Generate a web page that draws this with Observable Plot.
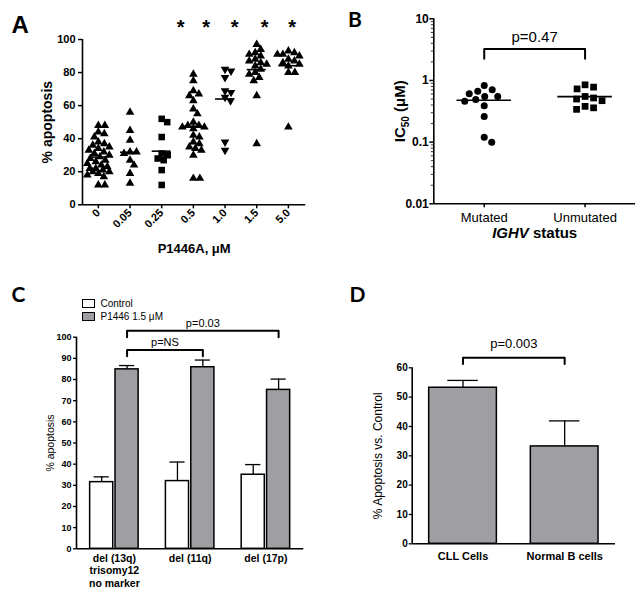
<!DOCTYPE html>
<html>
<head>
<meta charset="utf-8">
<script src="https://cdn.jsdelivr.net/npm/d3@7"></script>
<script src="https://cdn.jsdelivr.net/npm/@observablehq/plot@0.6"></script>
<style>
  html, body { margin: 0; padding: 0; background: #fff; }
  #fig { position: relative; width: 643px; height: 594px; overflow: hidden; background: #fff;
         font-family: "Liberation Sans", Arial, sans-serif; color: #000; }
  #fig svg { position: absolute; overflow: visible; }
  .leg { position: absolute; font-size: 10px; line-height: 13px; white-space: nowrap; }
  .leg .row { display: flex; align-items: center; height: 13px; }
  .leg .sw { display: inline-block; width: 11px; height: 7px; border: 1px solid #000; margin-right: 6px; }
</style>
</head>
<body>
<div id="fig"></div>
<script>
// ================= DATA =================
// Panel A: % apoptosis by P1446A dose (µM)
const doseLabels = ["0", "0.05", "0.25", "0.5", "1.0", "1.5", "5.0"];
const apoptosisDose0   = [48, 48, 44, 43, 41, 38, 37, 36, 35, 34, 33, 32, 31, 30, 29, 28, 27, 26, 25, 24, 23, 22, 22, 21, 20, 20, 19, 18, 17, 12, 12];
const apoptosisDose005 = [56, 45, 39, 32, 32, 31, 27, 24, 19, 13];
const apoptosisDose025 = [52, 50, 41, 31, 30, 28, 27, 21, 12];
const apoptosisDose05  = [79, 75, 69, 67, 66, 63, 58, 55, 50, 48, 48, 47, 47, 46, 42, 41, 38, 37, 35, 34, 33, 30, 16, 16];
const apoptosisDose10  = [82, 81, 77, 69, 68, 65, 63, 38, 33];
const apoptosisDose15  = [97, 94, 92, 91, 90, 88, 87, 86, 85, 84, 82, 80, 79, 77, 75, 66, 37];
const apoptosisDose50  = [93, 92, 91, 91, 90, 88, 87, 86, 85, 84, 80, 80, 47];
const significanceMarks = ["*", "*", "*", "*", "*"];
const starAt = [2.6, 3.4, 4.3, 5.25, 6.12];   // annotation positions in dose-category units

// Panel B: IC50 (µM) by IGHV status
const ighvGroups = ["Mutated", "Unmutated"];
const ic50Mutated   = [0.83, 0.71, 0.67, 0.61, 0.55, 0.55, 0.49, 0.46, 0.39, 0.26, 0.12, 0.10];
const ic50Unmutated = [0.85, 0.78, 0.73, 0.55, 0.52, 0.50, 0.47, 0.38, 0.36, 0.34];
const pValueB = "p=0.47";

// Panel C: % apoptosis by cytogenetic group
const cytoGroups = ["del (13q)\ntrisomy12\nno marker", "del (11q)", "del (17p)"];
const seriesC = ["Control", "P1446 1.5 μM"];
const controlMean = [31.5, 32.0, 35.0];
const controlErr  = [2.5, 9.0, 4.8];
const p1446Mean   = [84.8, 85.8, 75.1];
const p1446Err    = [1.8, 3.4, 5.1];
const bracketsC = [{from: 0, to: 2, label: "p=0.03"}, {from: 0, to: 1, label: "p=NS"}];

// Panel D: % apoptosis vs control
const cellTypes = ["CLL Cells", "Normal B cells"];
const apoptosisVsControl = [53.2, 33.2];
const apoptosisVsControlErr = [2.5, 8.7];
const pValueD = "p=0.003";

// ================= HELPERS =================
const FONT = "Liberation Sans, Arial, sans-serif";
const GRAY = "#9e9ea3";
const fig = document.getElementById("fig");

function layout(box, f) {
  return {
    width: box.w, height: box.h,
    marginLeft: f.l - box.x, marginTop: f.t - box.y,
    marginRight: box.x + box.w - f.r, marginBottom: box.y + box.h - f.b
  };
}
function place(svg, box) {
  svg.style.left = box.x + "px";
  svg.style.top = box.y + "px";
  fig.appendChild(svg);
  return svg;
}
// deterministic beeswarm: horizontal pixel offsets, limited to a max spread
function swarm(vals, toPx, diam, maxOff) {
  const order = d3.range(vals.length).sort((a, b) => vals[b] - vals[a]);
  const placed = [];
  const off = new Array(vals.length).fill(0);
  for (const k of order) {
    const py = toPx(vals[k]);
    let best = 0, bestScore = -Infinity;
    for (let s = 0; ; s++) {
      const c = s === 0 ? 0 : (s % 2 ? 1 : -1) * Math.ceil(s / 2) * 0.5;
      if (Math.abs(c) > maxOff) break;
      const md = placed.length ? d3.min(placed, p => Math.hypot(p.x - c, p.y - py)) : Infinity;
      if (md >= diam) { best = c; break; }
      if (md > bestScore + 0.01) { bestScore = md; best = c; }
    }
    placed.push({x: best, y: py});
    off[k] = best;
  }
  return off;
}
const triangleDown = {
  draw(ctx, size) {
    const y = Math.sqrt(size / (Math.sqrt(3) * 3));
    ctx.moveTo(0, y * 2);
    ctx.lineTo(-Math.sqrt(3) * y, -y);
    ctx.lineTo(Math.sqrt(3) * y, -y);
    ctx.closePath();
  }
};
const baseStyle = {fontFamily: FONT, background: "transparent", color: "#000", overflow: "visible", fontSize: "11px"};

// ================= PANEL A =================
{
  const box = {x: 0, y: 0, w: 330, h: 280};
  const fr = {l: 82, t: 39, r: 305.3, b: 204.3};
  const xDom = [-0.5, 6.55], yDom = [0, 100];
  const pxX = (fr.r - fr.l) / (xDom[1] - xDom[0]);
  const pxY = (fr.b - fr.t) / (yDom[1] - yDom[0]);
  const valuesA = [apoptosisDose0, apoptosisDose005, apoptosisDose025, apoptosisDose05, apoptosisDose10, apoptosisDose15, apoptosisDose50];
  const rows = doseLabels.flatMap((g, i) => {
    const off = swarm(valuesA[i], v => v * pxY, 6.2, 11);
    return valuesA[i].map((v, k) => ({g, i, v, x: i + off[k] / pxX}));
  });
  const means = doseLabels.map((g, i) => ({i, mean: d3.mean(valuesA[i])}));
  const svg = Plot.plot({
    ...layout(box, fr),
    style: baseStyle,
    x: {type: "linear", domain: xDom},
    y: {domain: yDom},
    marks: [
      Plot.axisY({ticks: d3.range(0, 101, 20), tickSize: 4, tickPadding: 3, fontSize: 11, fontWeight: "bold", strokeWidth: 1.5, label: null}),
      Plot.axisX({ticks: d3.range(doseLabels.length), tickFormat: i => doseLabels[i], tickRotate: -45, tickSize: 4, tickPadding: 2, fontSize: 11, fontWeight: "bold", strokeWidth: 1.5, label: null}),
      Plot.ruleX([xDom[0]], {strokeWidth: 1.6}),
      Plot.ruleY([0], {strokeWidth: 1.6}),
      Plot.dot(rows.filter(d => d.g === "0.25"), {x: "x", y: "v", symbol: "square", r: 3.7, fill: "#000"}),
      Plot.dot(rows.filter(d => d.g === "1.0"), {x: "x", y: "v", symbol: triangleDown, r: 3.2, fill: "#000"}),
      Plot.dot(rows.filter(d => d.g !== "0.25" && d.g !== "1.0"), {x: "x", y: "v", symbol: "triangle", r: 3.2, fill: "#000"}),
      Plot.ruleY(means, {y: "mean", x1: d => d.i - 0.3, x2: d => d.i + 0.3, strokeWidth: 1.6}),
      Plot.text(significanceMarks, {x: (d, k) => starAt[k], y: () => 107, text: d => d, fontSize: 20, fontWeight: "bold"}),
      Plot.text(["% apoptosis"], {frameAnchor: "left", dx: 46.7 - fr.l, rotate: -90, textAnchor: "middle", lineAnchor: "middle", fontSize: 14, fontWeight: "bold"}),
      Plot.text(["P1446A, μM"], {frameAnchor: "bottom", dy: 248.3 - fr.b, lineAnchor: "middle", fontSize: 13, fontWeight: "bold"}),
      Plot.text(["A"], {frameAnchor: "top-left", dx: 11 - fr.l, dy: 15 - fr.t, textAnchor: "start", lineAnchor: "top", fontSize: 24, fontWeight: "bold"})
    ]
  });
  place(svg, box);
}

// ================= PANEL B =================
{
  const box = {x: 330, y: 0, w: 313, h: 280};
  const fr = {l: 433.3, t: 18.3, r: 635, b: 203.3};
  const xDom = [-0.5, 1.5], yDom = [0.01, 10];
  const pxX = (fr.r - fr.l) / (xDom[1] - xDom[0]);
  const pxDecade = (fr.b - fr.t) / Math.log10(yDom[1] / yDom[0]);
  const valuesB = [ic50Mutated, ic50Unmutated];
  const rows = ighvGroups.flatMap((g, i) => {
    const off = swarm(valuesB[i], v => pxDecade * Math.log10(v), 8.6, 22);
    return valuesB[i].map((v, k) => ({g, i, v, x: i + off[k] / pxX}));
  });
  const means = ighvGroups.map((g, i) => ({i, mean: d3.mean(valuesB[i])}));
  const minor = d3.scaleLog().domain(yDom).ticks().filter(t => Math.abs(Math.log10(t) - Math.round(Math.log10(t))) > 1e-6);
  const bTop = 3.25, bFoot = 2.25;
  const bracket = [{x: 0, y: bFoot}, {x: 0, y: bTop}, {x: 1, y: bTop}, {x: 1, y: bFoot}];
  const svg = Plot.plot({
    ...layout(box, fr),
    style: baseStyle,
    x: {type: "linear", domain: xDom},
    y: {type: "log", domain: yDom},
    marks: [
      Plot.axisY({ticks: [0.01, 0.1, 1, 10], tickFormat: d => String(d), tickSize: 4, tickPadding: 1, fontSize: 12, fontWeight: "bold", strokeWidth: 1.5, label: null}),
      Plot.axisY({ticks: minor, tickSize: 2.5, fill: "none", strokeWidth: 0.8, label: null}),
      Plot.axisX({ticks: [0, 1], tickFormat: i => ighvGroups[i], tickSize: 4, tickPadding: 5, fontSize: 13, strokeWidth: 1.5, label: null}),
      Plot.ruleX([xDom[0]], {strokeWidth: 1.6}),
      Plot.ruleY([yDom[0]], {strokeWidth: 1.6}),
      Plot.dot(rows.filter(d => d.i === 0), {x: "x", y: "v", symbol: "circle", r: 3.5, fill: "#000"}),
      Plot.dot(rows.filter(d => d.i === 1), {x: "x", y: "v", symbol: "square", r: 3.8, fill: "#000"}),
      Plot.ruleY(means, {y: "mean", x1: d => d.i - 0.27, x2: d => d.i + 0.27, strokeWidth: 1.6}),
      Plot.line(bracket, {x: "x", y: "y", strokeWidth: 2}),
      Plot.text([pValueB], {x: () => 0.5, y: () => bTop, dy: -11.6, lineAnchor: "middle", fontSize: 15}),
      Plot.text(["IC50 (μM)"], {frameAnchor: "left", dx: 400 - fr.l, rotate: -90, textAnchor: "middle", lineAnchor: "middle", fontSize: 15, fontWeight: "bold"}),
      Plot.text(["IGHV status"], {frameAnchor: "bottom", dy: 233 - fr.b, lineAnchor: "middle", fontSize: 15, fontWeight: "bold"}),
      Plot.text(["B"], {frameAnchor: "top-left", dx: 347.5 - fr.l, dy: 11.5 - fr.t, textAnchor: "start", lineAnchor: "top", fontSize: 21, fontWeight: "bold", fontFamily: "Lato"})
    ]
  });
  d3.select(svg).selectAll("text").each(function () {
    const t = d3.select(this);
    if (this.textContent === "IGHV status") {
      t.text(null);
      t.append("tspan").attr("font-style", "italic").text("IGHV");
      t.append("tspan").text(" status");
    } else if (this.textContent === "IC50 (μM)") {
      t.text(null);
      t.append("tspan").text("IC");
      t.append("tspan").attr("font-size", "10px").attr("dy", "4").text("50");
      t.append("tspan").attr("dy", "-4").text(" (μM)");
    }
  });
  place(svg, box);
}

// ================= PANEL C =================
{
  const box = {x: 0, y: 280, w: 330, h: 314};
  const fr = {l: 76, t: 336.7, r: 303.3, b: 548.3};
  const xDom = [-0.5, 2.5], yDom = [0, 100];
  const rows = cytoGroups.map((label, i) => ({
    i, label, c: controlMean[i], cTop: controlMean[i] + controlErr[i],
    p: p1446Mean[i], pTop: p1446Mean[i] + p1446Err[i]
  }));
  const cC = i => i - 0.1675, cP = i => i + 0.1675;
  const levels = [103, 94];
  const brRows = bracketsC.flatMap((b, k) => [
    {k, x: cP(b.from), y: levels[k] - 3}, {k, x: cP(b.from), y: levels[k]},
    {k, x: cP(b.to), y: levels[k]}, {k, x: cP(b.to), y: levels[k] - 3}
  ]);
  const svg = Plot.plot({
    ...layout(box, fr),
    style: baseStyle,
    x: {type: "linear", domain: xDom, axis: null},
    y: {domain: yDom},
    marks: [
      Plot.axisY({ticks: d3.range(0, 101, 10), tickSize: 3, tickPadding: 2, fontSize: 9, fontWeight: "bold", strokeWidth: 1.3, label: null}),
      Plot.rect(rows, {x1: d => d.i - 0.32, x2: d => d.i - 0.015, y1: () => 0, y2: "c", fill: "#fff", stroke: "#000", strokeWidth: 1.5}),
      Plot.rect(rows, {x1: d => d.i + 0.015, x2: d => d.i + 0.32, y1: () => 0, y2: "p", fill: GRAY, stroke: "#000", strokeWidth: 1.5}),
      Plot.ruleX(rows, {x: d => cC(d.i), y1: "c", y2: "cTop", strokeWidth: 1.3}),
      Plot.ruleY(rows, {y: "cTop", x1: d => cC(d.i) - 0.1, x2: d => cC(d.i) + 0.1, strokeWidth: 1.3}),
      Plot.ruleX(rows, {x: d => cP(d.i), y1: "p", y2: "pTop", strokeWidth: 1.3}),
      Plot.ruleY(rows, {y: "pTop", x1: d => cP(d.i) - 0.1, x2: d => cP(d.i) + 0.1, strokeWidth: 1.3}),
      Plot.ruleX([xDom[0]], {strokeWidth: 1.6}),
      Plot.ruleY([0], {strokeWidth: 1.6}),
      Plot.text(rows, {x: "i", y: () => 0, text: "label", lineAnchor: "top", dy: 4.5, lineHeight: 1.17, fontSize: 10.5, fontWeight: "bold"}),
      Plot.line(brRows, {x: "x", y: "y", z: "k", strokeWidth: 2}),
      Plot.text(bracketsC, {x: d => (cP(d.from) + cP(d.to)) / 2, y: (d, k) => levels[k], dy: -7.5, text: "label", lineAnchor: "middle", fontSize: 11}),
      Plot.text(["% apoptosis"], {frameAnchor: "left", dx: 50 - fr.l, rotate: -90, textAnchor: "middle", lineAnchor: "middle", fontSize: 10.5}),
      Plot.text(["C"], {frameAnchor: "top-left", dx: 11 - fr.l, dy: 286.5 - fr.t, textAnchor: "start", lineAnchor: "top", fontSize: 21, fontWeight: "bold", fontFamily: "Lato"})
    ]
  });
  place(svg, box);
  // legend (HTML, above the plot)
  const leg = document.createElement("div");
  leg.className = "leg";
  leg.style.left = "81.5px";
  leg.style.top = "297px";
  const fills = ["#fff", GRAY];
  seriesC.forEach((s, k) => {
    const row = document.createElement("div");
    row.className = "row";
    const sw = document.createElement("span");
    sw.className = "sw";
    sw.style.background = fills[k];
    row.appendChild(sw);
    row.appendChild(document.createTextNode(s));
    leg.appendChild(row);
  });
  fig.appendChild(leg);
}

// ================= PANEL D =================
{
  const box = {x: 330, y: 280, w: 313, h: 314};
  const fr = {l: 411.7, t: 367.3, r: 615, b: 543.3};
  const xDom = [-0.5, 1.5], yDom = [0, 60];
  const rows = cellTypes.map((name, i) => ({i, name, v: apoptosisVsControl[i], top: apoptosisVsControl[i] + apoptosisVsControlErr[i]}));
  const bTop = 63.4, bFoot = 61.3;
  const bracket = [{x: 0, y: bFoot}, {x: 0, y: bTop}, {x: 1, y: bTop}, {x: 1, y: bFoot}];
  const svg = Plot.plot({
    ...layout(box, fr),
    style: baseStyle,
    x: {type: "linear", domain: xDom},
    y: {domain: yDom},
    marks: [
      Plot.axisY({ticks: d3.range(0, 61, 10), tickSize: 3, tickPadding: 1.5, fontSize: 10, fontWeight: "bold", strokeWidth: 1.3, label: null}),
      Plot.axisX({ticks: [0, 1], tickFormat: i => cellTypes[i], tickSize: 0, tickPadding: 8, fontSize: 11, fontWeight: "bold", label: null}),
      Plot.rect(rows, {x1: d => d.i - 0.333, x2: d => d.i + 0.333, y1: () => 0, y2: "v", fill: GRAY, stroke: "#000", strokeWidth: 1.5}),
      Plot.ruleX(rows, {x: "i", y1: "v", y2: "top", strokeWidth: 1.3}),
      Plot.ruleY(rows, {y: "top", x1: d => d.i - 0.15, x2: d => d.i + 0.15, strokeWidth: 1.3}),
      Plot.ruleX([xDom[0]], {strokeWidth: 1.6}),
      Plot.ruleY([0], {strokeWidth: 1.6}),
      Plot.line(bracket, {x: "x", y: "y", strokeWidth: 2}),
      Plot.text([pValueD], {x: () => 0.5, y: () => bTop, dy: -14, lineAnchor: "middle", fontSize: 13}),
      Plot.text(["% Apoptosis vs. Control"], {frameAnchor: "left", dx: 378 - fr.l, rotate: -90, textAnchor: "middle", lineAnchor: "middle", fontSize: 12}),
      Plot.text(["D"], {frameAnchor: "top-left", dx: 349 - fr.l, dy: 287 - fr.t, textAnchor: "start", lineAnchor: "top", fontSize: 21, fontWeight: "bold", fontFamily: "Lato"})
    ]
  });
  place(svg, box);
}
</script>
</body>
</html>
